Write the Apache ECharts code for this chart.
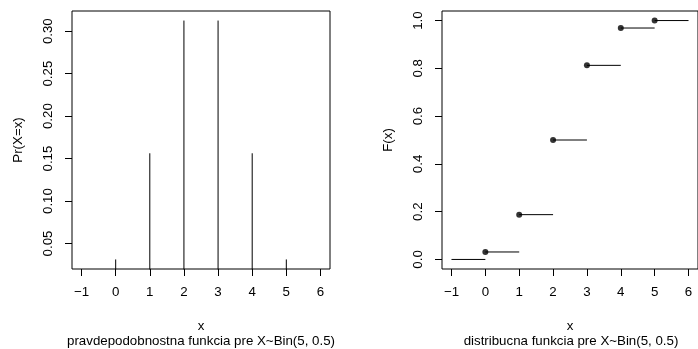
<!DOCTYPE html>
<html><head><meta charset="utf-8">
<script src="https://cdn.jsdelivr.net/npm/echarts@6/dist/echarts.min.js"></script>
<style>html,body{margin:0;padding:0;background:#fff}#c{width:698px;height:349px}</style>
</head><body><div id="c"></div>
<script>
// ---- data ----
const xValues = [0, 1, 2, 3, 4, 5];
const pmfValues = [0.03125, 0.15625, 0.3125, 0.3125, 0.15625, 0.03125];
const cdfValues = [0.03125, 0.1875, 0.5, 0.8125, 0.96875, 1.0];
const xTicks = [-1, 0, 1, 2, 3, 4, 5, 6];
const pmfYTicks = [0.05, 0.10, 0.15, 0.20, 0.25, 0.30];
const cdfYTicks = [0.0, 0.2, 0.4, 0.6, 0.8, 1.0];
const xLimits = [-1, 6];
const cdfLeftValue = 0;
const pmfYLabel = 'Pr(X=x)';
const cdfYLabel = 'F(x)';
const xLabel = 'x';
const pmfTitle = 'pravdepodobnostna funkcia pre X~Bin(5, 0.5)';
const cdfTitle = 'distribucna funkcia pre X~Bin(5, 0.5)';

// ---- helpers (R-like 4% axis padding) ----
function pad(lo, hi) { const d = (hi - lo) * 0.04; return [lo - d, hi + d]; }
const xr = pad(xLimits[0], xLimits[1]);
const pmfR = pad(Math.min(...pmfValues), Math.max(...pmfValues));
const cdfR = pad(Math.min(cdfLeftValue, ...cdfValues), Math.max(...cdfValues));

const FONT = "'Liberation Sans', Arial, Helvetica, sans-serif";
const FS = 13.3;
const fmtX = v => v < 0 ? '\u2212' + (-v) : String(v);

function xAxisDef(gi) {
  return {
    gridIndex: gi, type: 'value', min: xr[0], max: xr[1],
    axisLine: { show: false, onZero: false },
    splitLine: { show: false },
    axisTick: { show: true, inside: false, length: 7, customValues: xTicks, lineStyle: { color: '#000', width: 1 } },
    axisLabel: { customValues: xTicks, formatter: fmtX, color: '#000', fontSize: FS, fontFamily: FONT, margin: 17 },
    name: xLabel, nameLocation: 'middle', nameGap: 51,
    nameTextStyle: { color: '#000', fontSize: FS, fontFamily: FONT }
  };
}
function yAxisDef(gi, r, ticks, dec, name) {
  return {
    gridIndex: gi, type: 'value', min: r[0], max: r[1],
    axisLine: { show: false, onZero: false },
    splitLine: { show: false },
    axisTick: { show: true, inside: false, length: 7, customValues: ticks, lineStyle: { color: '#000', width: 1 } },
    axisLabel: { customValues: ticks, formatter: v => v.toFixed(dec), rotate: 90, color: '#000', fontSize: FS, fontFamily: FONT, margin: 17 },
    name: name, nameLocation: 'middle', nameRotate: 90, nameGap: 47,
    nameTextStyle: { color: '#000', fontSize: FS, fontFamily: FONT }
  };
}

const series = [];
// PMF vertical sticks (type = "h")
xValues.forEach((x, i) => {
  series.push({
    type: 'line', xAxisIndex: 0, yAxisIndex: 0, silent: true, showSymbol: false, clip: true,
    data: [[x, 0], [x, pmfValues[i]]],
    lineStyle: { color: '#000', width: 1 }
  });
});
// CDF horizontal steps
const stepStarts = [xLimits[0], ...xValues];
const stepEnds = [...xValues, xLimits[1]];
const stepLevels = [cdfLeftValue, ...cdfValues];
stepStarts.forEach((s, i) => {
  series.push({
    type: 'line', xAxisIndex: 1, yAxisIndex: 1, silent: true, showSymbol: false, clip: true,
    data: [[s, stepLevels[i]], [stepEnds[i], stepLevels[i]]],
    lineStyle: { color: '#000', width: 1 }
  });
});
// CDF points
series.push({
  type: 'scatter', xAxisIndex: 1, yAxisIndex: 1, silent: true,
  symbol: 'circle', symbolSize: 6,
  itemStyle: { color: '#000' },
  data: xValues.map((x, i) => [x, cdfValues[i]])
});

const chart = echarts.init(document.getElementById('c'), null, { renderer: 'canvas' });
chart.setOption({
  animation: false,
  backgroundColor: '#fff',
  grid: [
    { left: 72, top: 11, width: 258, height: 258, show: true, borderColor: '#000', borderWidth: 1, backgroundColor: 'transparent' },
    { left: 442, top: 11, width: 258, height: 258, show: true, borderColor: '#000', borderWidth: 1, backgroundColor: 'transparent' }
  ],
  title: [
    { text: pmfTitle, left: 201, top: 335, textAlign: 'center', textStyle: { color: '#000', fontSize: FS, fontWeight: 'normal', fontFamily: FONT }, padding: 0 },
    { text: cdfTitle, left: 571, top: 335, textAlign: 'center', textStyle: { color: '#000', fontSize: FS, fontWeight: 'normal', fontFamily: FONT }, padding: 0 }
  ],
  xAxis: [xAxisDef(0), xAxisDef(1)],
  yAxis: [yAxisDef(0, pmfR, pmfYTicks, 2, pmfYLabel), yAxisDef(1, cdfR, cdfYTicks, 1, cdfYLabel)],
  series: series
});
</script>
</body></html>
